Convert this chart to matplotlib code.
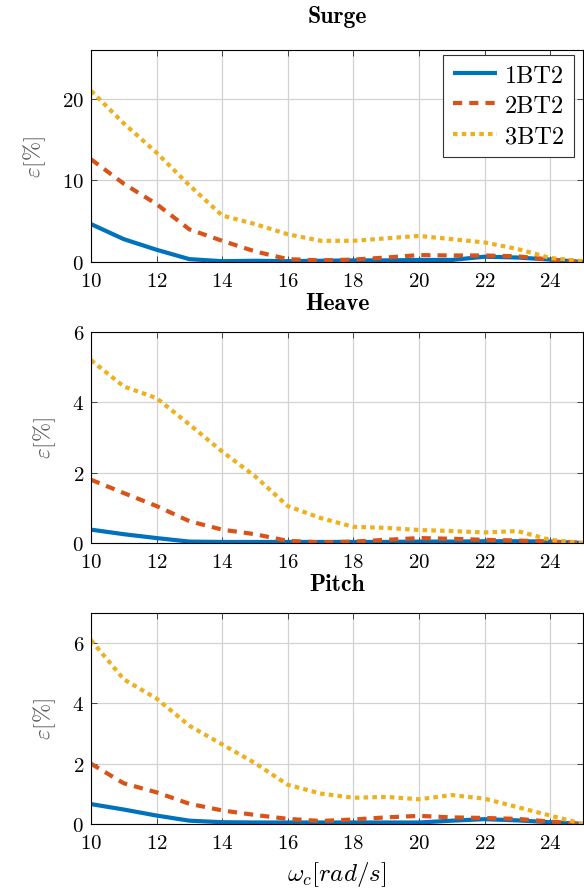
"""
Recreates the three-panel error chart (Surge / Heave / Pitch) versus
cut-off frequency for the 1BT2, 2BT2 and 3BT2 configurations.
Saves the figure as out.png.
"""

import matplotlib
matplotlib.use("Agg")
import matplotlib.pyplot as plt

# ──────────────────────────────────────────────
# Data
# ──────────────────────────────────────────────
omega = [10, 11, 12, 13, 14, 15, 16, 17, 18, 19, 20, 21, 22, 23, 24, 25]

surge_1bt2 = [4.65, 2.8, 1.5, 0.35, 0.1, 0.15, 0.1, 0.15, 0.2, 0.2, 0.25, 0.25, 0.65, 0.55, 0.3, 0.0]
surge_2bt2 = [12.6, 9.6, 7.1, 4.0, 2.6, 1.3, 0.35, 0.2, 0.3, 0.55, 0.85, 0.8, 0.8, 0.7, 0.3, 0.0]
surge_3bt2 = [21.0, 17.0, 13.4, 9.4, 5.7, 4.65, 3.4, 2.6, 2.6, 2.9, 3.2, 2.8, 2.4, 1.6, 0.5, 0.1]

heave_1bt2 = [0.38, 0.25, 0.14, 0.04, 0.03, 0.03, 0.03, 0.03, 0.03, 0.03, 0.04, 0.04, 0.05, 0.05, 0.04, 0.0]
heave_2bt2 = [1.8, 1.42, 1.05, 0.62, 0.38, 0.25, 0.06, 0.02, 0.04, 0.09, 0.14, 0.12, 0.09, 0.07, 0.04, 0.0]
heave_3bt2 = [5.2, 4.45, 4.12, 3.37, 2.6, 1.9, 1.05, 0.71, 0.46, 0.43, 0.37, 0.34, 0.3, 0.34, 0.09, 0.0]

pitch_1bt2 = [0.66, 0.48, 0.28, 0.11, 0.06, 0.05, 0.05, 0.05, 0.05, 0.05, 0.05, 0.11, 0.16, 0.12, 0.06, 0.0]
pitch_2bt2 = [2.0, 1.35, 1.05, 0.67, 0.45, 0.3, 0.17, 0.1, 0.15, 0.22, 0.27, 0.22, 0.2, 0.17, 0.08, 0.0]
pitch_3bt2 = [6.1, 4.8, 4.16, 3.26, 2.64, 2.02, 1.3, 1.01, 0.87, 0.9, 0.82, 0.96, 0.84, 0.56, 0.28, 0.0]

series_names = ["1BT2", "2BT2", "3BT2"]
panel_titles = ["Surge", "Heave", "Pitch"]
panel_data = [
    (surge_1bt2, surge_2bt2, surge_3bt2),
    (heave_1bt2, heave_2bt2, heave_3bt2),
    (pitch_1bt2, pitch_2bt2, pitch_3bt2),
]
panel_ylim = [26, 6, 7]
panel_yticks = [[0, 10, 20], [0, 2, 4, 6], [0, 2, 4, 6]]
x_ticks = [10, 12, 14, 16, 18, 20, 22, 24]

# ──────────────────────────────────────────────
# Styling
# ──────────────────────────────────────────────
COLORS = ["#0072BD", "#D95319", "#EDB120"]
STYLES = ["-", (0, (2.2, 1.7)), (0, (1.1, 1.0))]
LW = 3.0

plt.rcParams["font.family"] = "serif"
plt.rcParams["font.serif"] = ["cmr10"]
plt.rcParams["mathtext.fontset"] = "cm"
plt.rcParams["axes.formatter.use_mathtext"] = True
plt.rcParams["axes.unicode_minus"] = False

W, H = 584, 895
fig = plt.figure(figsize=(W / 100, H / 100), dpi=100)

# axes boxes in pixels: (left, top, right, bottom)
boxes = [(91, 51, 583, 263), (91, 333, 583, 544), (91, 614, 583, 825)]
title_pads = [20, 16.5, 16.5]

for i, (box, title) in enumerate(zip(boxes, panel_titles)):
    l, t, r, b = box
    ax = fig.add_axes([l / W, 1 - b / H, (r - l) / W, (b - t) / H])
    for vals, name, c, ls in zip(panel_data[i], series_names, COLORS, STYLES):
        ax.plot(omega, vals, color=c, linestyle=ls, linewidth=LW,
                label=name, solid_capstyle="butt", dash_capstyle="butt")

    ax.set_xlim(10, 25)
    ax.set_ylim(0, panel_ylim[i])
    ax.set_xticks(x_ticks)
    ax.set_yticks(panel_yticks[i])
    ax.grid(True, color="#d2d2d2", linewidth=0.9)
    ax.set_axisbelow(True)
    ax.tick_params(direction="in", top=True, right=True, length=4,
                   width=0.7, color="#444444", labelsize=15)
    ax.tick_params(axis="x", pad=7)
    ax.tick_params(axis="y", pad=5)
    for sp in ax.spines.values():
        sp.set_linewidth(0.8)

    ax.set_title(title, fontfamily="cmb10", fontsize=17, pad=title_pads[i])
    ax.set_ylabel(r"$\varepsilon[\%]$", fontsize=16.5, color="#555555",
                  labelpad=10)

    if i == 0:
        leg = ax.legend(loc="upper right",
                        bbox_to_anchor=(1 - 9 / 492, 1 - 5 / 212),
                        fontsize=17.5, fancybox=False, edgecolor="#333333",
                        framealpha=1, borderpad=0.4, handlelength=1.8,
                        handletextpad=0.35, labelspacing=0.33,
                        borderaxespad=0)
        leg.get_frame().set_linewidth(0.8)
    if i == 2:
        ax.set_xlabel(r"$\omega_c[rad/s]$", fontsize=18, labelpad=5)

fig.savefig("out.png", dpi=100)
